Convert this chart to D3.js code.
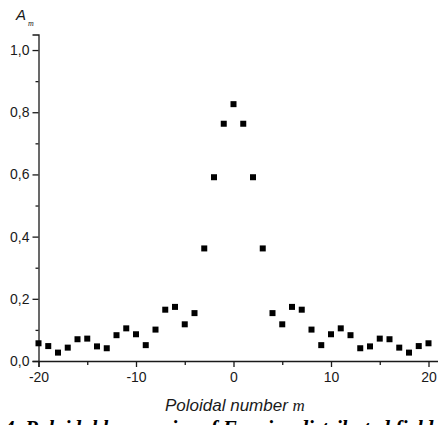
<!DOCTYPE html>
<html>
<head>
<meta charset="utf-8">
<script src="https://cdn.jsdelivr.net/npm/d3@7"></script>
<style>
  html, body { margin: 0; padding: 0; background: #fff; }
  svg { display: block; }
</style>
</head>
<body>
<svg id="chart" width="438" height="425"></svg>
<script>
// Poloidal harmonic amplitudes A_m for m = -20 ... 20
const harmonicNumbers = d3.range(-20, 21);
const amplitudes = [
  0.057, 0.048, 0.027, 0.043, 0.070, 0.072, 0.047, 0.041, 0.083, 0.105,
  0.086, 0.051, 0.101, 0.165, 0.174, 0.118, 0.154, 0.362, 0.591, 0.763,
  0.826,
  0.763, 0.591, 0.362, 0.154, 0.118, 0.174, 0.165, 0.101, 0.051, 0.086,
  0.105, 0.083, 0.041, 0.047, 0.072, 0.070, 0.043, 0.027, 0.048, 0.057
];
const xTickValues = [-20, -10, 0, 10, 20];
const xMinorTicks = [-15, -5, 5, 15];
const yTickValues = [0, 0.2, 0.4, 0.6, 0.8, 1.0];
const yMinorTicks = [0.1, 0.3, 0.5, 0.7, 0.9];

const svg = d3.select("#chart");
const ink = "#1a1a1a";

const x = d3.scaleLinear().domain([-20, 21]).range([38.5, 438.25]);
const y = d3.scaleLinear().domain([0, 1.05]).range([361, 34.5]);

const fmtComma = v => d3.format(".1f")(v).replace(".", ",");

// x axis
const gx = svg.append("g").attr("transform", `translate(0,${y(0)})`);
gx.call(d3.axisBottom(x).tickValues(xTickValues).tickSize(6).tickPadding(5)
  .tickFormat(d => d < 0 ? "-" + Math.abs(d) : String(d)));
gx.append("g").call(d3.axisBottom(x).tickValues(xMinorTicks).tickSize(4).tickFormat(""))
  .select(".domain").remove();

// y axis
const gy = svg.append("g").attr("transform", `translate(${x(-20)},0)`);
gy.call(d3.axisLeft(y).tickValues(yTickValues).tickSize(6).tickPadding(3).tickFormat(fmtComma));
gy.append("g").call(d3.axisLeft(y).tickValues(yMinorTicks).tickSize(3).tickFormat(""))
  .select(".domain").remove();

svg.selectAll(".domain, .tick line").attr("stroke", ink).attr("stroke-width", 1.3);
svg.selectAll(".tick text")
  .attr("fill", ink)
  .style("font-family", "'Liberation Sans', Arial, sans-serif")
  .style("font-size", "14px");

// data markers
const size = 6;
svg.append("g").selectAll("rect")
  .data(harmonicNumbers.map((m, i) => ({ m, a: amplitudes[i] })))
  .join("rect")
  .attr("x", d => x(d.m) - size / 2)
  .attr("y", d => y(d.a) - size / 2)
  .attr("width", size)
  .attr("height", size)
  .attr("fill", "#000");

// y axis title A_m
svg.append("text")
  .attr("x", 16).attr("y", 20)
  .attr("fill", ink)
  .style("font-family", "'Liberation Sans', Arial, sans-serif")
  .style("font-style", "italic")
  .style("font-size", "15px")
  .text("A");
svg.append("text")
  .attr("x", 28).attr("y", 26)
  .attr("fill", ink)
  .style("font-family", "'Liberation Serif', 'Times New Roman', serif")
  .style("font-style", "italic")
  .style("font-size", "8px")
  .text("m");

// x axis title
const xt = svg.append("text")
  .attr("x", 165).attr("y", 411)
  .attr("fill", ink)
  .style("font-family", "'Liberation Sans', Arial, sans-serif")
  .style("font-style", "italic")
  .style("font-size", "17px");
xt.append("tspan").text("Poloidal number ");
xt.append("tspan")
  .style("font-family", "'Liberation Serif', 'Times New Roman', serif")
  .text("m");

// figure caption (runs past the lower edge)
svg.append("text")
  .attr("x", 4).attr("y", 435)
  .attr("fill", "#000")
  .style("font-family", "'Liberation Serif', 'Times New Roman', serif")
  .style("font-style", "italic")
  .style("font-weight", "bold")
  .style("font-size", "21px")
  .text("4. Poloidal harmonics of Fourier-distributed fields");
</script>
</body>
</html>
